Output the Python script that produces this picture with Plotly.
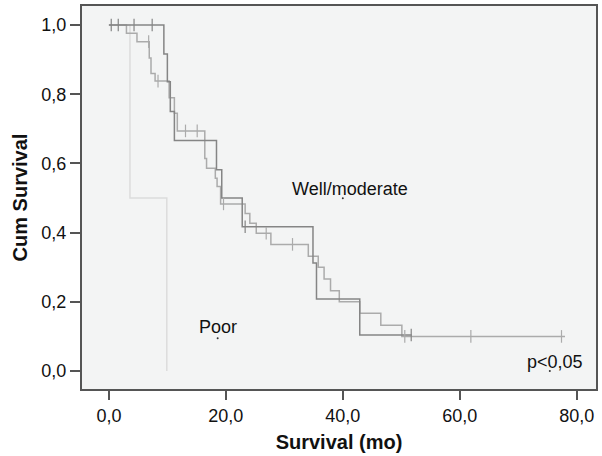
import numpy as np
import plotly.graph_objects as go

# Kaplan-Meier step data (time in months, cumulative survival)
well_t = [0, 9.4, 10.0, 10.5, 11.2, 18.4, 19.3, 22.8, 34.9, 35.5, 42.9, 51.8]
well_s = [1.0, 0.916, 0.836, 0.75, 0.666, 0.582, 0.50, 0.417, 0.312, 0.208, 0.104, 0.104]
well_cens = [0.4, 1.6, 4.3, 7.4, 23.3, 51.7]

mod_t = [0, 3.0, 4.8, 6.9, 7.2, 7.9, 10.3, 11.2, 11.7, 16.4, 16.7, 18.2, 18.5, 19.1,
         23.3, 24.1, 25.2, 27.7, 34.1, 35.8, 36.8, 37.9, 39.4, 42.9, 46.5, 50.1, 78.0]
mod_s = [1.0, 0.976, 0.952, 0.905, 0.86, 0.838, 0.79, 0.745, 0.694, 0.614, 0.586, 0.557,
         0.533, 0.483, 0.455, 0.427, 0.398, 0.366, 0.332, 0.30, 0.266, 0.232, 0.20,
         0.167, 0.132, 0.10, 0.10]
mod_cens = [6.8, 8.4, 13.1, 15.1, 19.6, 26.9, 31.4, 50.6, 61.9, 77.4]

poor_t = [0, 3.6, 9.9]
poor_s = [1.0, 0.5, 0.0]

x_ticks = [0, 20, 40, 60, 80]
y_ticks = [0.0, 0.2, 0.4, 0.6, 0.8, 1.0]


def surv_at(times, surv, pts):
    idx = np.searchsorted(np.array(times), np.array(pts), side="right") - 1
    return [surv[i] for i in idx]


C_WELL = "#858585"
C_MOD = "#ababab"
C_POOR = "#dcdcdc"
FONT = "Liberation Sans, Arial, Helvetica, sans-serif"

fig = go.Figure()

fig.add_trace(go.Scatter(x=poor_t, y=poor_s, mode="lines", line_shape="hv",
                         line=dict(color=C_POOR, width=1.5), showlegend=False))
fig.add_trace(go.Scatter(x=mod_t, y=mod_s, mode="lines", line_shape="hv",
                         line=dict(color=C_MOD, width=1.5), showlegend=False))
fig.add_trace(go.Scatter(x=well_t, y=well_s, mode="lines", line_shape="hv",
                         line=dict(color=C_WELL, width=1.5), showlegend=False))

fig.add_trace(go.Scatter(x=mod_cens, y=surv_at(mod_t, mod_s, mod_cens), mode="markers",
                         marker=dict(symbol="line-ns", size=9,
                                     line=dict(color=C_MOD, width=1.2)),
                         showlegend=False))
fig.add_trace(go.Scatter(x=well_cens, y=surv_at(well_t, well_s, well_cens), mode="markers",
                         marker=dict(symbol="line-ns", size=9,
                                     line=dict(color=C_WELL, width=1.2)),
                         showlegend=False))

# small anchor dots of the labels
fig.add_trace(go.Scatter(x=[40.0, 18.6, 75.4], y=[0.499, 0.095, 0.0], mode="markers",
                         marker=dict(size=2, color="#333333"), showlegend=False))

for txt, x, y in [("Well/moderate", 41.2, 0.526), ("Poor", 18.6, 0.127), ("p<0,05", 76.3, 0.026)]:
    fig.add_annotation(x=x, y=y, text=txt, showarrow=False,
                       font=dict(family=FONT, size=18, color="#111111"))

fig.update_layout(
    width=602, height=456,
    margin=dict(l=82, r=4, t=6, b=67),
    paper_bgcolor="white",
    plot_bgcolor="#f3f4f4",
    separators=",.",
    font=dict(family=FONT, size=18, color="#111111"),
    xaxis=dict(range=[-4.6, 83.3], tickvals=x_ticks, tickformat=".1f",
               ticks="outside", ticklen=9, tickcolor="#555555", tickwidth=1.5,
               showline=True, linecolor="#555555", linewidth=2, mirror=True,
               showgrid=False, zeroline=False,
               title=dict(text="<b>Survival (mo)</b>", font=dict(size=20), standoff=10)),
    yaxis=dict(range=[-0.052, 1.055], tickvals=y_ticks, tickformat=".1f",
               ticks="outside", ticklen=10, tickcolor="#555555", tickwidth=1.5,
               showline=True, linecolor="#555555", linewidth=2, mirror=True,
               showgrid=False, zeroline=False,
               title=dict(text="<b>Cum Survival</b>", font=dict(size=20), standoff=8)),
)

fig.write_html("out.html")
